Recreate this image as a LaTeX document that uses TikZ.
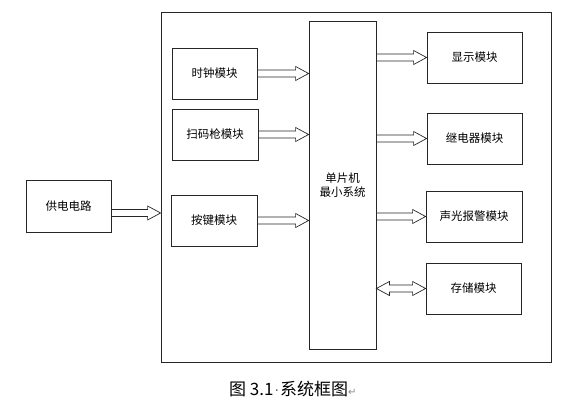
\documentclass[tikz,border=0pt]{standalone}
\usepackage{fontspec}
\setmainfont{Noto Sans CJK SC}
\newfontfamily\symfont{DejaVu Sans}
\usetikzlibrary{calc}
\tikzset{
  box/.style={draw=black!85, line width=0.8pt, rectangle, inner sep=0pt, font=\fontsize{11.5}{14}\selectfont, align=center},
  harrow/.style={draw=black!85, line width=0.7pt, fill=white, line join=miter}
}
% one-headed hollow arrow from #1 to #2 (horizontal)
\newcommand\hollowarrow[2]{%
  \draw[harrow] let \p1=(#1), \p2=(#2), \n1={sign(\x2-\x1)} in
    (\x1,\y1+3.5pt) -- (\x2-\n1*13pt,\y1+3.5pt) -- (\x2-\n1*13pt,\y1+7pt) -- (\x2,\y1)
    -- (\x2-\n1*13pt,\y1-7pt) -- (\x2-\n1*13pt,\y1-3.5pt) -- (\x1,\y1-3.5pt) -- cycle;}
% two-headed hollow arrow
\newcommand\hollowdarrow[2]{%
  \draw[harrow] let \p1=(#1), \p2=(#2) in
    (\x1,\y1) -- (\x1+13pt,\y1+7pt) -- (\x1+13pt,\y1+3.5pt) -- (\x2-13pt,\y1+3.5pt) -- (\x2-13pt,\y1+7pt) -- (\x2,\y1)
    -- (\x2-13pt,\y1-7pt) -- (\x2-13pt,\y1-3.5pt) -- (\x1+13pt,\y1-3.5pt) -- (\x1+13pt,\y1-7pt) -- cycle;}
\begin{document}
\begin{tikzpicture}[x=1pt,y=-1pt]
\useasboundingbox (0,0) rectangle (562,411);
\node[box, minimum width=390pt, minimum height=350pt] (frame) at (356,187) {};
\node[box, minimum width=67pt, minimum height=328pt] (mcu) at (342.5,185) {单片机\\最小系统};
\node[box, minimum width=85pt, minimum height=51pt] (clk) at (214.5,73.5) {时钟模块};
\node[box, minimum width=86pt, minimum height=51pt] (scan) at (215,134.5) {扫码枪模块};
\node[box, minimum width=86pt, minimum height=51pt] (key) at (214,220.5) {按键模块};
\node[box, minimum width=85pt, minimum height=52pt] (pwr) at (68.5,206) {供电电路};
\node[box, minimum width=95pt, minimum height=51pt] (disp) at (474.5,57.5) {显示模块};
\node[box, minimum width=95pt, minimum height=51pt] (relay) at (474.5,138.5) {继电器模块};
\node[box, minimum width=96pt, minimum height=51pt] (alarm) at (474,216.5) {声光报警模块};
\node[box, minimum width=95pt, minimum height=51pt] (store) at (473.5,288.5) {存储模块};
% left arrows
\coordinate (c1) at (mcu.west |- clk.east);
\hollowarrow{clk.east}{c1}
\coordinate (c2) at (mcu.west |- scan.east);
\hollowarrow{scan.east}{c2}
\coordinate (c3) at (mcu.west |- key.east);
\hollowarrow{key.east}{c3}
\path (pwr.east) ++(0,7) coordinate (p1);
\coordinate (p2) at (frame.west |- p1);
\hollowarrow{p1}{p2}
% right arrows
\coordinate (r1) at (mcu.east |- disp.west);
\hollowarrow{r1}{disp.west}
\coordinate (r2) at (mcu.east |- relay.west);
\hollowarrow{r2}{relay.west}
\coordinate (r3) at (mcu.east |- alarm.west);
\hollowarrow{r3}{alarm.west}
\coordinate (r4) at (mcu.east |- store.west);
\hollowdarrow{r4}{store.west}
\node[font=\fontsize{17}{19}\selectfont, anchor=west, inner sep=0pt] (cap) at (229,389) {图 3.1\hspace{1pt}{\color{black!60}\symfont\fontsize{14}{14}\selectfont ·}\hspace{1pt}系统框图{\color{black!45}\symfont\fontsize{10}{10}\selectfont ↵}};
\end{tikzpicture}
\end{document}
